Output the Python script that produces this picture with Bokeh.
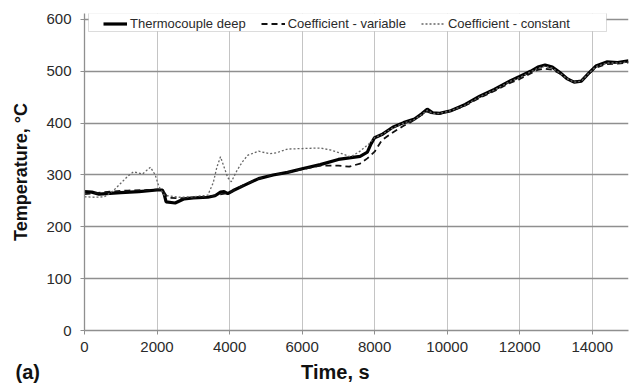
from bokeh.plotting import figure
from bokeh.models import (Range1d, Legend, LegendItem, Title, BoxAnnotation,
                          FixedTicker)
from bokeh.embed import file_html
from bokeh.resources import INLINE

# ---- data ----
tc_time = [0, 200, 400, 600, 1000, 1500, 2000, 2150, 2200, 2250, 2500, 2750, 3000,
           3400, 3600, 3750, 3850, 3950, 4100, 4400, 4800, 5200, 5600, 6000, 6500,
           7000, 7300, 7600, 7800, 7900, 8000, 8200, 8500, 8800, 9100, 9300, 9450,
           9600, 9800, 10100, 10500, 10900, 11300, 11750, 12000, 12300, 12500, 12700,
           12900, 13100, 13300, 13500, 13700, 13900, 14100, 14400, 14700, 15000]
tc_temp = [268, 267, 263, 264, 266, 268, 271, 271, 262, 248, 246, 254, 256,
           257, 260, 267, 268, 264, 270, 280, 293, 300, 305, 312, 320,
           330, 333, 336, 344, 360, 372, 378, 392, 401, 408, 418, 427,
           420, 419, 424, 436, 452, 465, 482, 490, 500, 508, 512,
           508, 498, 486, 479, 481, 496, 510, 518, 517, 520]

var_time = [0, 300, 700, 1200, 1700, 2100, 2200, 2300, 2600, 3000, 3400, 3700, 4000,
            4400, 4800, 5200, 5600, 6000, 6500, 7000, 7300, 7600, 7800, 8000, 8200,
            8500, 8800, 9000, 9300, 9450, 9600, 9800, 10100, 10500, 10900, 11300,
            11750, 12000, 12300, 12500, 12700, 12900, 13100, 13300, 13500, 13700,
            13900, 14100, 14400, 14700, 15000]
var_temp = [263, 265, 268, 270, 271, 272, 266, 256, 255, 256, 258, 262, 266,
            281, 293, 300, 305, 311, 318, 318, 316, 322, 332, 345, 367,
            382, 395, 402, 416, 422, 418, 418, 423, 434, 449, 462,
            478, 485, 496, 503, 505, 503, 496, 487, 480, 482,
            495, 507, 514, 515, 517]

const_time = [0, 300, 550, 800, 1000, 1200, 1350, 1600, 1820, 1950, 2050, 2200, 2600,
              3000, 3400, 3550, 3650, 3750, 3850, 3950, 4050, 4200, 4350, 4500, 4800,
              5100, 5300, 5600, 6000, 6500, 6800, 7060, 7340, 7600, 7840, 8000, 8200,
              8500, 8800, 9100, 9300, 9450, 9600, 9800, 10100, 10500, 10900, 11300,
              11750, 12000, 12300, 12500, 12700, 12900, 13100, 13300, 13500, 13700,
              13900, 14100, 14400, 14700, 15000]
const_temp = [258, 257, 258, 270, 284, 298, 306, 302, 315, 300, 278, 261, 257,
              258, 261, 285, 315, 335, 315, 295, 287, 308, 325, 338, 346,
              341, 343, 350, 351, 352, 348, 342, 335, 346, 360, 372, 378,
              391, 400, 407, 417, 425, 419, 419, 424, 435, 451, 464,
              481, 488, 499, 506, 510, 506, 497, 486, 479, 481,
              496, 509, 516, 516, 518]

x_ticks = [0, 2000, 4000, 6000, 8000, 10000, 12000, 14000]
y_ticks = [0, 100, 200, 300, 400, 500, 600]

series_names = ["Thermocouple deep", "Coefficient - variable", "Coefficient - constant"]
x_title = "Time, s"
y_title = "Temperature, °C"
panel_tag = "(a)"

FONT = "Liberation Sans"

# the plot area reaches slightly above the 600 line (legend sits there)
p = figure(width=630, height=387, output_backend="svg", toolbar_location=None,
           x_range=Range1d(0, 15000), y_range=Range1d(0, 611.5),
           min_border_left=84, min_border_right=2, min_border_top=13,
           min_border_bottom=56)
p.outline_line_color = None
p.background_fill_color = "white"
p.border_fill_color = "white"

# grids
p.xgrid.ticker = FixedTicker(ticks=x_ticks)
p.ygrid.ticker = FixedTicker(ticks=y_ticks)
p.xgrid.grid_line_color = "#c4c4c4"
p.xgrid.grid_line_width = 1
p.ygrid.grid_line_color = "#8f8f8f"
p.ygrid.grid_line_width = 1.3

# axes
for ax in (p.xaxis[0], p.yaxis[0]):
    ax.axis_line_color = "#8f8f8f"
    ax.axis_line_width = 1.3
    ax.major_tick_line_color = "#8f8f8f"
    ax.major_tick_out = 4
    ax.major_tick_in = 0
    ax.minor_tick_line_color = None
    ax.major_label_text_font = FONT
    ax.major_label_text_font_size = "15px"
    ax.major_label_text_color = "#2a2a2a"
p.xaxis[0].ticker = FixedTicker(ticks=x_ticks)
p.yaxis[0].ticker = FixedTicker(ticks=y_ticks)
p.xaxis[0].major_label_standoff = 7
p.yaxis[0].major_label_standoff = 9

p.yaxis[0].axis_label = y_title
p.yaxis[0].axis_label_text_font = FONT
p.yaxis[0].axis_label_text_font_style = "bold"
p.yaxis[0].axis_label_text_font_size = "18px"
p.yaxis[0].axis_label_text_color = "#111111"
p.yaxis[0].axis_label_standoff = 12

# lines
r1 = p.line(tc_time, tc_temp, line_color="black", line_width=3.2)
r2 = p.line(var_time, var_temp, line_color="#111111", line_width=1.8,
            line_dash="6 4")
r3 = p.line(const_time, const_temp, line_color="#666666", line_width=1.3,
            line_dash="2 2")

# legend box
box = BoxAnnotation(left=4, right=522, bottom=299, top=317.5,
                    left_units="screen", right_units="screen",
                    bottom_units="screen", top_units="screen",
                    fill_color="white", fill_alpha=1.0,
                    line_color="#8a8a8a", line_width=1)
p.add_layout(box)

legend = Legend(items=[LegendItem(label=series_names[0], renderers=[r1]),
                       LegendItem(label=series_names[1], renderers=[r2]),
                       LegendItem(label=series_names[2], renderers=[r3])],
                orientation="horizontal", location=(19, 299),
                padding=2, spacing=15, glyph_width=24, glyph_height=15,
                label_height=15, label_standoff=3, margin=0,
                label_text_font=FONT, label_text_font_size="13px",
                label_text_color="#2a2a2a",
                border_line_color=None, background_fill_alpha=0)
p.add_layout(legend)

# bottom titles: panel tag and x-axis title on one line
NBSP = "\u00a0"
bottom_text = panel_tag + NBSP * 47 + x_title
p.add_layout(Title(text=bottom_text, align="left", offset=-69,
                   text_font=FONT, text_font_style="bold",
                   text_font_size="20px", text_color="#111111",
                   standoff=9), "below")

open("out.html", "w").write(file_html(p, INLINE))
